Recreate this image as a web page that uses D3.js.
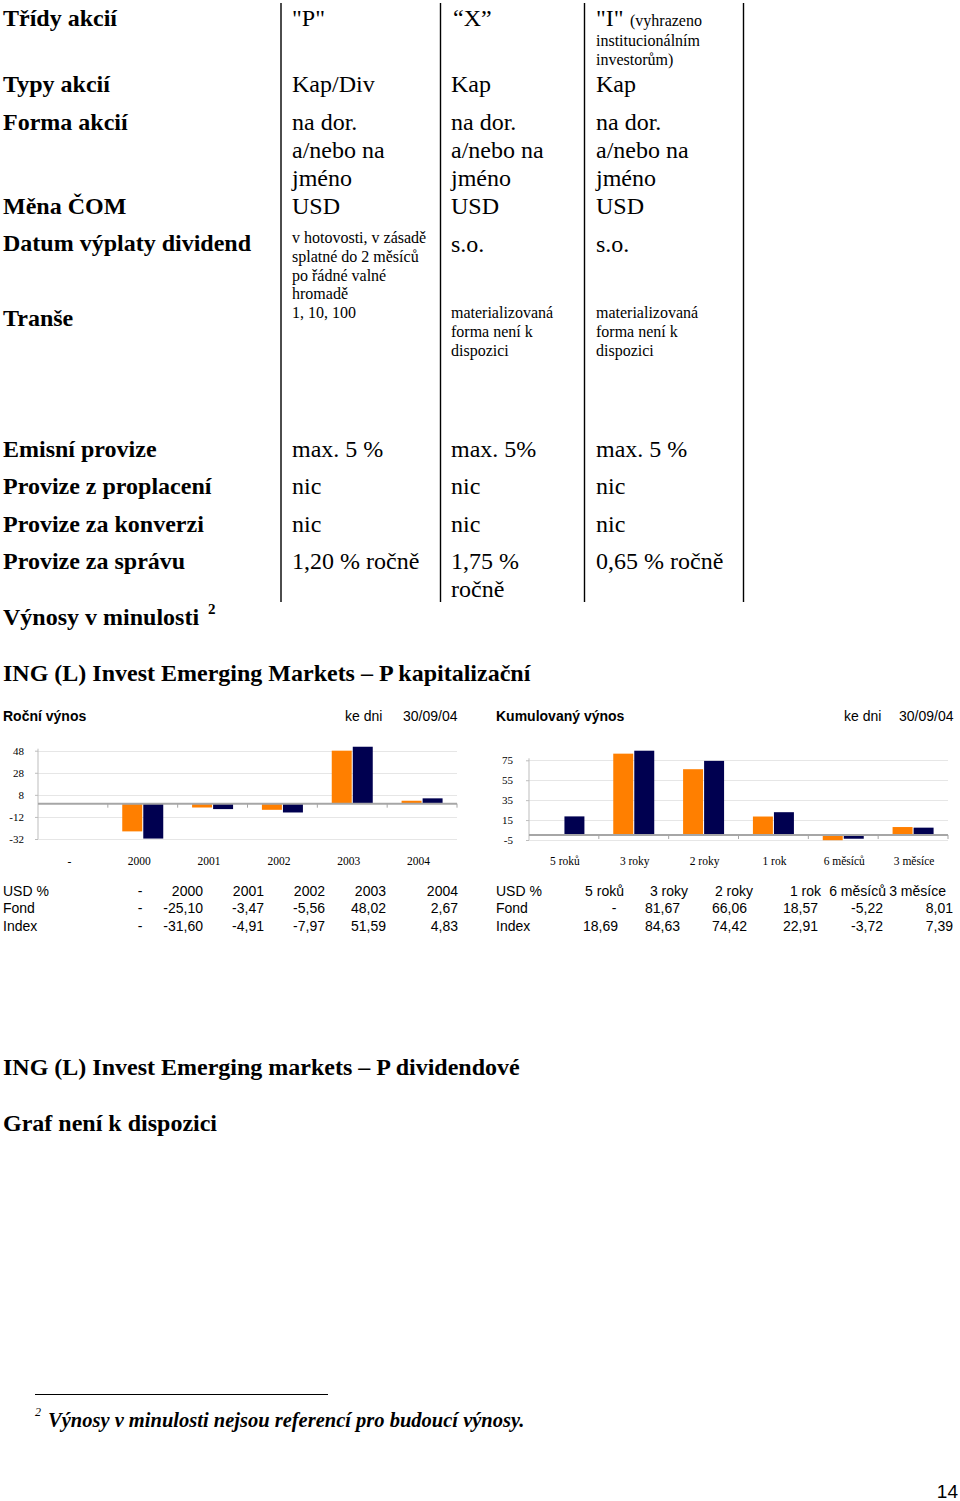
<!DOCTYPE html>
<html><head><meta charset="utf-8">
<script src="https://cdn.jsdelivr.net/npm/d3@7/dist/d3.min.js"></script>
<style>
html,body{margin:0;padding:0;background:#fff;}
svg{display:block;}
</style></head>
<body>
<script>
// ---- chart data ----
const annualCats = ["-", "2000", "2001", "2002", "2003", "2004"];
const annualFond = [null, -25.10, -3.47, -5.56, 48.02, 2.67];
const annualIndex = [null, -31.60, -4.91, -7.97, 51.59, 4.83];
const annualTicks = [48, 28, 8, -12, -32];

const cumCats = ["5 roků", "3 roky", "2 roky", "1 rok", "6 měsíců", "3 měsíce"];
const cumFond = [null, 81.67, 66.06, 18.57, -5.22, 8.01];
const cumIndex = [18.69, 84.63, 74.42, 22.91, -3.72, 7.39];
const cumTicks = [75, 55, 35, 15, -5];

const seriesNames = ["Fond", "Index"];
const seriesColors = ["#FF7F00", "#000050"];

const W = 960, H = 1501;
const SERIF = "'Liberation Serif','Times New Roman',serif";
const SANS = "'Liberation Sans',Arial,sans-serif";

const loc = d3.formatLocale({ decimal: ",", thousands: " ", grouping: [3], currency: ["", ""], minus: "-" });

const svg = d3.select("body").append("svg").attr("width", W).attr("height", H);
svg.append("rect").attr("width", W).attr("height", H).attr("fill", "#fff");

function txt(x, y, s, o = {}) {
  return svg.append("text").attr("x", x).attr("y", y)
    .attr("font-family", o.family || SERIF)
    .attr("font-size", o.size || 24)
    .attr("font-weight", o.bold ? "bold" : "normal")
    .attr("font-style", o.italic ? "italic" : "normal")
    .attr("text-anchor", o.anchor || "start")
    .attr("fill", "#000").text(s);
}

// ---- top table ----
const colLines = [281, 440.5, 584.5, 743.5];
colLines.forEach(x => svg.append("line").attr("x1", x).attr("x2", x).attr("y1", 3).attr("y2", 602)
  .attr("stroke", "#000").attr("stroke-width", 1.4));

const rowLabels = [
  ["Třídy akcií", 26], ["Typy akcií", 92], ["Forma akcií", 130], ["Měna ČOM", 214],
  ["Datum výplaty dividend", 251], ["Tranše", 326], ["Emisní provize", 457],
  ["Provize z proplacení", 494], ["Provize za konverzi", 532], ["Provize za správu", 569],
  ["Výnosy v minulosti", 625]
];
rowLabels.forEach(([s, y]) => txt(3, y, s, { bold: true }));
txt(208, 614, "2", { bold: true, size: 15 });

// column P
txt(292, 26, "\"P\"");
[["Kap/Div", 92], ["na dor.", 130], ["a/nebo na", 158], ["jméno", 186], ["USD", 214],
 ["max. 5 %", 457], ["nic", 494], ["nic", 532], ["1,20 % ročně", 569]].forEach(([s, y]) => txt(292, y, s));
[["v hotovosti, v zásadě", 243], ["splatné do 2 měsíců", 261.5], ["po řádné valné", 280.5],
 ["hromadě", 299], ["1, 10, 100", 318]].forEach(([s, y]) => txt(292, y, s, { size: 16 }));

// column X
txt(453, 26, "\u201CX\u201D");
[["Kap", 92], ["na dor.", 130], ["a/nebo na", 158], ["jméno", 186], ["USD", 214], ["s.o.", 252],
 ["max. 5%", 457], ["nic", 494], ["nic", 532], ["1,75 %", 569], ["ročně", 597]].forEach(([s, y]) => txt(451, y, s));
[["materializovaná", 318], ["forma není k", 337], ["dispozici", 356]].forEach(([s, y]) => txt(451, y, s, { size: 16 }));

// column I
txt(596, 26, "\"I\"");
txt(630, 26, "(vyhrazeno", { size: 16 });
txt(596, 46, "institucionálním", { size: 16 });
txt(596, 65, "investorům)", { size: 16 });
[["Kap", 92], ["na dor.", 130], ["a/nebo na", 158], ["jméno", 186], ["USD", 214], ["s.o.", 252],
 ["max. 5 %", 457], ["nic", 494], ["nic", 532], ["0,65 % ročně", 569]].forEach(([s, y]) => txt(596, y, s));
[["materializovaná", 318], ["forma není k", 337], ["dispozici", 356]].forEach(([s, y]) => txt(596, y, s, { size: 16 }));

// ---- headings ----
txt(3, 681, "ING (L) Invest Emerging Markets \u2013 P kapitalizační", { bold: true });
txt(3, 1075, "ING (L) Invest Emerging markets \u2013 P dividendové", { bold: true });
txt(3, 1131, "Graf není k dispozici", { bold: true });

// ---- charts ----
const fmt = v => v == null ? "-" : loc.format(".2f")(v);

function drawChart(cfg) {
  const g = svg.append("g");
  const x = d3.scaleBand().domain(cfg.cats).range([cfg.x0, cfg.x1]).paddingInner(0).paddingOuter(0);
  const y = d3.scaleLinear().domain([cfg.ticks[cfg.ticks.length - 1], cfg.ticks[0]]).range([cfg.yBot, cfg.yTop]);
  const xs = d3.scaleBand().domain(seriesNames).range([-20.5, 20.5]).paddingInner(0.05);

  // grid
  g.selectAll(".grid").data(cfg.ticks).join("line")
    .attr("x1", cfg.x0).attr("x2", cfg.x1).attr("y1", d => Math.round(y(d)) + 0.5).attr("y2", d => Math.round(y(d)) + 0.5)
    .attr("stroke", "#e6e6e6").attr("stroke-width", 1);

  // left axis
  const ax = g.append("g").attr("transform", `translate(${cfg.x0},0)`)
    .call(d3.axisLeft(y).tickValues(cfg.ticks).tickSize(3).tickPadding(cfg.pad).tickFormat(loc.format("d")));
  ax.select(".domain").attr("stroke", "#bdbdbd").attr("d", `M0,${cfg.yTop - 2}V${cfg.yBot}`);
  ax.selectAll(".tick line").attr("stroke", "#bdbdbd");
  ax.selectAll(".tick text").attr("font-family", SERIF).attr("font-size", 11).attr("fill", "#000");

  // bars
  const data = [];
  cfg.cats.forEach((c, i) => {
    [cfg.fond[i], cfg.index[i]].forEach((v, j) => { if (v != null) data.push({ c, s: seriesNames[j], v, j }); });
  });
  g.selectAll(".bar").data(data).join("rect")
    .attr("x", d => x(d.c) + x.bandwidth() / 2 + xs(d.s))
    .attr("width", xs.bandwidth())
    .attr("y", d => Math.min(y(0), y(d.v)))
    .attr("height", d => Math.abs(y(d.v) - y(0)))
    .attr("fill", d => seriesColors[d.j]);

  // zero baseline with tick marks
  const y0 = y(0);
  g.append("line").attr("x1", cfg.x0).attr("x2", cfg.x1).attr("y1", y0).attr("y2", y0)
    .attr("stroke", "#a6a6a6").attr("stroke-width", 2);
  const bounds = cfg.cats.map(c => x(c)).concat([cfg.x1]).slice(1);
  g.selectAll(".xt").data(bounds).join("line")
    .attr("x1", d => d).attr("x2", d => d).attr("y1", y0).attr("y2", y0 + 4)
    .attr("stroke", "#a6a6a6").attr("stroke-width", 1);

  // category labels
  g.selectAll(".cl").data(cfg.cats).join("text")
    .attr("x", d => x(d) + x.bandwidth() / 2 + cfg.labShift).attr("y", 865)
    .attr("text-anchor", "middle").attr("font-family", SERIF).attr("font-size", 11.5).text(d => d);

  // titles
  txt(cfg.tx, 721, cfg.title, { family: SANS, size: 14, bold: true });
  txt(cfg.kx, 721, "ke dni", { family: SANS, size: 14 });
  txt(cfg.dx, 721, "30/09/04", { family: SANS, size: 14 });

  // data table
  const rows = [["USD %", 896], ["Fond", 913], ["Index", 931]];
  rows.forEach(([s, yy]) => txt(cfg.tx, yy, s, { family: SANS, size: 14 }));
  cfg.cats.forEach((c, i) => {
    const hd = cfg.hdrPos[i], vp = cfg.valPos[i];
    txt(hd, 896, c, { family: SANS, size: 14, anchor: c === "-" ? "middle" : "end" });
    [[cfg.fond[i], 913], [cfg.index[i], 931]].forEach(([v, yy]) =>
      txt(v == null ? vp - 4 : vp, yy, fmt(v), { family: SANS, size: 14, anchor: v == null ? "middle" : "end" }));
  });
}

drawChart({
  cats: annualCats, fond: annualFond, index: annualIndex, ticks: annualTicks,
  x0: 38, x1: 457, yTop: 750.7, yBot: 839, pad: 11, labShift: -3.5,
  title: "Roční výnos", tx: 3, kx: 345, dx: 403,
  hdrPos: [140, 203, 264, 325, 386, 458], valPos: [144, 203, 264, 325, 386, 458]
});
drawChart({
  cats: cumCats, fond: cumFond, index: cumIndex, ticks: cumTicks,
  x0: 529, x1: 948, yTop: 760.3, yBot: 840, pad: 13, labShift: 1,
  title: "Kumulovaný výnos", tx: 496, kx: 844, dx: 899,
  hdrPos: [624, 688, 753, 821, 886, 946], valPos: [618, 680, 747, 818, 883, 953]
});

// ---- footnote ----
svg.append("line").attr("x1", 35).attr("x2", 328).attr("y1", 1394.5).attr("y2", 1394.5)
  .attr("stroke", "#000").attr("stroke-width", 1.2);
txt(35, 1416, "2", { size: 12, italic: true });
txt(48, 1427, "Výnosy v minulosti nejsou referencí pro budoucí výnosy.", { size: 20.5, bold: true, italic: true });

// page number
txt(958, 1498, "14", { family: SANS, size: 19, anchor: "end" });
</script>
</body></html>
